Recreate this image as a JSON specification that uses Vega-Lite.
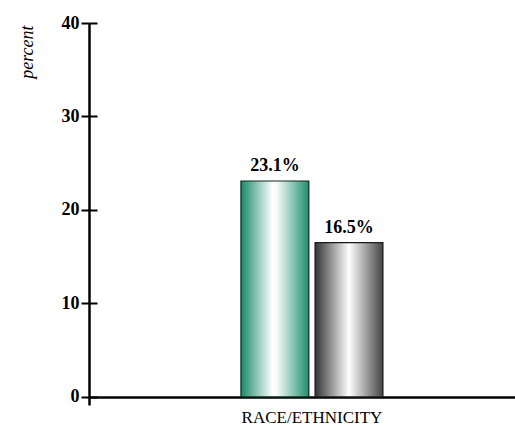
{
  "$schema": "https://vega.github.io/schema/vega-lite/v6.json",
  "width": 426,
  "height": 382,
  "autosize": {"type": "none"},
  "padding": {"left": 89, "top": 23, "right": 0, "bottom": 22},
  "config": {"view": {"stroke": null}, "font": "Liberation Serif"},
  "data": {"values": [
    {"group": "RACE/ETHNICITY", "series": "A", "value": 23.1, "label": "23.1%"},
    {"group": "RACE/ETHNICITY", "series": "B", "value": 16.5, "label": "16.5%"}
  ]},
  "encoding": {
    "x": {"field": "group", "type": "nominal", "title": null,
      "scale": {"paddingInner": 0, "paddingOuter": 1.065, "align": 0.535},
      "axis": {"labelAngle": 0, "domainColor": "black", "domainWidth": 2.5, "ticks": false, "tickSize": 0,
        "labelPadding": 12, "labelFontSize": 17, "labelColor": "black", "labelFont": "Liberation Serif", "offset": -8}},
    "xOffset": {"field": "series", "type": "nominal", "scale": {"paddingInner": 0.084, "paddingOuter": 0}},
    "y": {"field": "value", "type": "quantitative",
      "scale": {"domain": [-0.86, 40], "nice": false, "zero": false},
      "axis": {"values": [0, 10, 20, 30, 40], "title": "percent", "titleFont": "Liberation Serif", "titleFontStyle": "italic",
        "titleFontWeight": "normal", "titleFontSize": 18, "titleAngle": -90, "titleX": -62, "titleY": 2, "titleAlign": "right", "titleBaseline": "middle",
        "domainColor": "black", "domainWidth": 2.5, "tickColor": "black", "tickWidth": 2, "tickSize": 8,
        "grid": true, "gridColor": "black", "gridWidth": 2, "gridDash": [8, 2000],
        "labelFontSize": 18, "labelFontWeight": "bold", "labelColor": "black", "labelPadding": 2}}
  },
  "layer": [
    {"transform": [{"filter": "datum.series == 'A'"}],
      "mark": {"type": "bar", "stroke": "#0f2a20", "strokeWidth": 1.2,
        "fill": {"gradient": "linear", "x1": 0, "x2": 1, "y1": 0, "y2": 0,
          "stops": [{"offset": 0, "color": "#1a8866"}, {"offset": 0.47, "color": "#ffffff"}, {"offset": 0.53, "color": "#f6fbf9"}, {"offset": 1, "color": "#1e8f6d"}]}}},
    {"transform": [{"filter": "datum.series == 'B'"}],
      "mark": {"type": "bar", "stroke": "#1a1a1a", "strokeWidth": 1.2,
        "fill": {"gradient": "linear", "x1": 0, "x2": 1, "y1": 0, "y2": 0,
          "stops": [{"offset": 0, "color": "#333333"}, {"offset": 0.5, "color": "#ffffff"}, {"offset": 1, "color": "#444444"}]}}},
    {"mark": {"type": "text", "dy": -6, "baseline": "bottom", "fontSize": 18, "fontWeight": "bold", "font": "Liberation Serif", "color": "black"},
      "encoding": {"text": {"field": "label"}}}
  ]
}
